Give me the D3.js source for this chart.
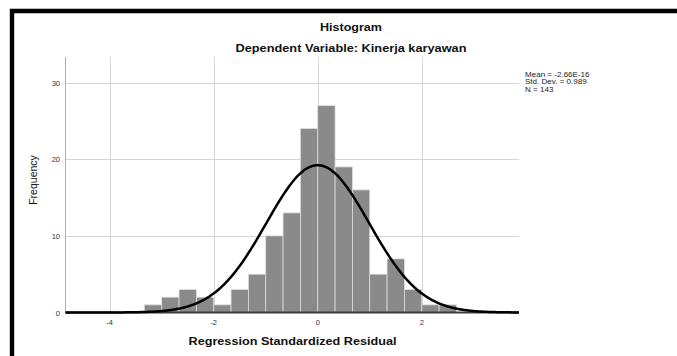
<!DOCTYPE html>
<html>
<head>
<meta charset="utf-8">
<script src="https://cdn.jsdelivr.net/npm/d3@7"></script>
<style>
  body { margin: 0; background: #fff; }
  svg { display: block; font-family: "Liberation Sans", Arial, sans-serif; }
</style>
</head>
<body>
<svg width="677" height="356"></svg>
<script>
// histogram bins (lower edge of each bin) and counts
var binStarts = [-3.3333, -3.0, -2.6667, -2.3333, -2.0, -1.6667, -1.3333, -1.0, -0.6667,
  -0.3333, 0.0, 0.3333, 0.6667, 1.0, 1.3333, 1.6667, 2.0, 2.3333];
var binWidth = 0.3333;
var counts = [1, 2, 3, 2, 1, 3, 5, 10, 13, 24, 27, 19, 16, 5, 7, 3, 1, 1];

var xTicks = [-4, -2, 0, 2];
var yTicks = [0, 10, 20, 30];

var mean = -2.66e-16, stdDev = 0.989, nObs = 143;
var statLines = ['Mean = -2.66E-16', 'Std. Dev. = 0.989', 'N = 143'];

var svg = d3.select('svg'),
  width = +svg.attr('width'),
  height = +svg.attr('height');

var plotLeft = 65.5, plotRight = 519, plotTop = 57, plotBottom = 312.5;

var x = d3.scaleLinear().domain([-4.85, 3.87]).range([plotLeft, plotRight]);
var y = d3.scaleLinear().domain([0, 33.35]).range([plotBottom, plotTop]);

// outer frame (top and left edge only)
svg.append('path')
  .attr('d', 'M12,356 L12,11 L677,11')
  .attr('fill', 'none')
  .attr('stroke', '#000')
  .attr('stroke-width', 4.4);

// titles
svg.append('text')
  .attr('x', 351).attr('y', 31)
  .attr('text-anchor', 'middle')
  .attr('font-size', 11).attr('font-weight', 'bold')
  .attr('fill', '#111')
  .attr('textLength', 62).attr('lengthAdjust', 'spacingAndGlyphs')
  .text('Histogram');
svg.append('text')
  .attr('x', 351).attr('y', 52)
  .attr('text-anchor', 'middle')
  .attr('font-size', 11).attr('font-weight', 'bold')
  .attr('fill', '#111')
  .attr('textLength', 231).attr('lengthAdjust', 'spacingAndGlyphs')
  .text('Dependent Variable: Kinerja karyawan');

// grid
var grid = svg.append('g').attr('stroke', '#d6d6d6').attr('stroke-width', 1);
grid.selectAll('.hg')
  .data(yTicks.filter(function (d) { return d > 0; }))
  .enter().append('line')
  .attr('x1', plotLeft).attr('x2', plotRight)
  .attr('y1', function (d) { return Math.round(y(d)) + 0.5; })
  .attr('y2', function (d) { return Math.round(y(d)) + 0.5; });
grid.selectAll('.vg')
  .data(xTicks)
  .enter().append('line')
  .attr('y1', plotTop).attr('y2', plotBottom)
  .attr('x1', function (d) { return Math.round(x(d)) + 0.5; })
  .attr('x2', function (d) { return Math.round(x(d)) + 0.5; });

// left axis line
svg.append('line')
  .attr('x1', plotLeft).attr('x2', plotLeft)
  .attr('y1', plotTop).attr('y2', plotBottom)
  .attr('stroke', '#b0b0b0').attr('stroke-width', 1);

// bars
svg.append('g')
  .selectAll('rect')
  .data(counts)
  .enter().append('rect')
  .attr('x', function (d, i) { return x(binStarts[i]); })
  .attr('width', function (d, i) { return x(binStarts[i] + binWidth) - x(binStarts[i]); })
  .attr('y', function (d) { return y(d); })
  .attr('height', function (d) { return y(0) - y(d); })
  .attr('fill', '#8a8a8a')
  .attr('stroke', '#dcdcdc')
  .attr('stroke-width', 0.8);

// bottom axis line
svg.append('line')
  .attr('x1', plotLeft).attr('x2', plotRight)
  .attr('y1', plotBottom).attr('y2', plotBottom)
  .attr('stroke', '#3a3a3a').attr('stroke-width', 2);

// normal curve from the reported mean, std. dev. and N
var scaleFactor = nObs * binWidth / (stdDev * Math.sqrt(2 * Math.PI));
var curveX = d3.range(x.domain()[0], x.domain()[1] + 0.01, 0.02);
var line = d3.line()
  .x(function (d) { return x(d); })
  .y(function (d) {
    var z = (d - mean) / stdDev;
    return y(scaleFactor * Math.exp(-0.5 * z * z));
  })
  .curve(d3.curveBasis);
svg.append('path')
  .datum(curveX)
  .attr('d', line)
  .attr('fill', 'none')
  .attr('stroke', '#000')
  .attr('stroke-width', 2.5);

// tick labels
svg.append('g')
  .selectAll('text')
  .data(yTicks)
  .enter().append('text')
  .attr('x', 60)
  .attr('y', function (d) { return y(d) + 3; })
  .attr('text-anchor', 'end')
  .attr('font-size', 7.5)
  .attr('fill', '#333')
  .text(function (d) { return d; });
svg.append('g')
  .selectAll('text')
  .data(xTicks)
  .enter().append('text')
  .attr('x', function (d) { return x(d); })
  .attr('y', 325)
  .attr('text-anchor', 'middle')
  .attr('font-size', 7.5)
  .attr('fill', '#333')
  .text(function (d) { return d; });

// axis titles
svg.append('text')
  .attr('transform', 'translate(37,180) rotate(-90)')
  .attr('text-anchor', 'middle')
  .attr('font-size', 10.5)
  .attr('fill', '#111')
  .text('Frequency');
svg.append('text')
  .attr('x', 292.5).attr('y', 345)
  .attr('text-anchor', 'middle')
  .attr('font-size', 11).attr('font-weight', 'bold')
  .attr('fill', '#111')
  .attr('textLength', 208).attr('lengthAdjust', 'spacingAndGlyphs')
  .text('Regression Standardized Residual');

// statistics box
svg.append('g')
  .attr('transform', 'translate(525,0) scale(1.15,1)')
  .selectAll('text')
  .data(statLines)
  .enter().append('text')
  .attr('x', 0)
  .attr('y', function (d, i) { return 77 + i * 7.4; })
  .attr('font-size', 7)
  .attr('fill', '#222')
  .text(function (d) { return d; });
</script>
</body>
</html>
